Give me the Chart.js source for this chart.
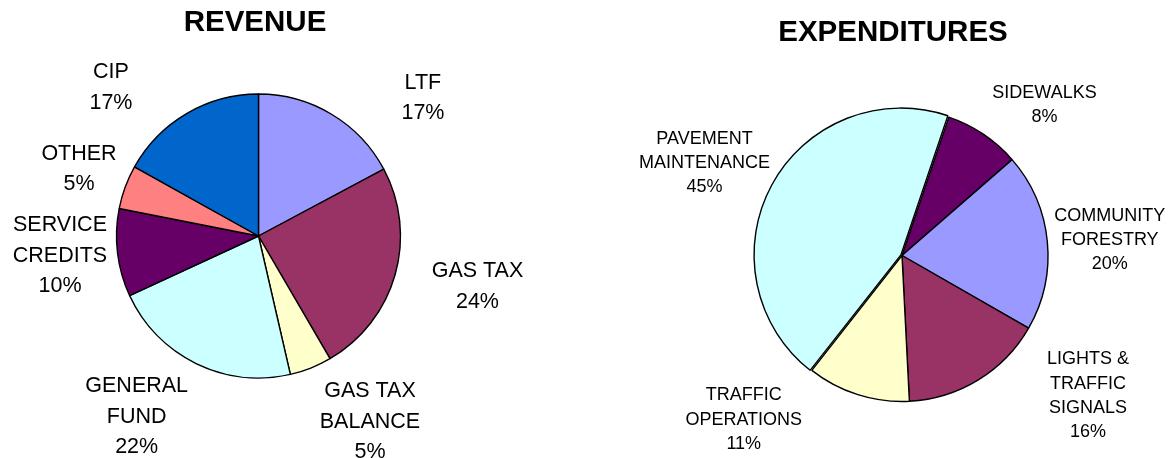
<!DOCTYPE html>
<html>
<head>
<meta charset="utf-8">
<script src="https://cdn.jsdelivr.net/npm/chart.js@4.4.1/dist/chart.umd.min.js"></script>
<style>
  html, body { margin: 0; padding: 0; background: #ffffff; }
  #wrap { position: relative; width: 1171px; height: 458px; overflow: hidden; }
  canvas { position: absolute; top: 0; }
  #c1 { left: 0; }
  #c2 { left: 585px; }
</style>
</head>
<body>
<div id="wrap">
  <canvas id="c1" width="585" height="458"></canvas>
  <canvas id="c2" width="586" height="458"></canvas>
</div>
<script>
// ---- DATA ----
const revenueTitle = 'REVENUE';
const revenueCategories = ['LTF', 'GAS TAX', 'GAS TAX\nBALANCE', 'GENERAL\nFUND', 'SERVICE\nCREDITS', 'OTHER', 'CIP'];
const revenueValues = [17.2, 24.4, 4.8, 21.7, 10.0, 5.0, 16.9];
const revenueColors = ['#9999FF', '#993366', '#FFFFCC', '#CCFFFF', '#660066', '#FF8080', '#0066CC'];

const expTitle = 'EXPENDITURES';
const expCategories = ['SIDEWALKS', 'COMMUNITY\nFORESTRY', 'LIGHTS &\nTRAFFIC\nSIGNALS', 'TRAFFIC\nOPERATIONS', 'PAVEMENT\nMAINTENANCE'];
const expValues = [8.4, 19.7, 15.9, 11.4, 44.6];
const expColors = ['#660066', '#9999FF', '#993366', '#FFFFCC', '#CCFFFF'];
const expOffsets = [0, 0, 0, 0, 5];

// ---- LAYOUT (label block centres relative to pie centre, in radius units) ----
const revenueLabelPos = [[1.158, -0.973], [1.542, 0.356], [0.785, 1.308], [-0.858, 1.275], [-1.398, 0.141], [-1.264, -0.472], [-1.039, -1.046]];
const expLabelPos = [[0.976, -1.033], [1.423, -0.106], [1.274, 0.961], [-1.084, 1.125], [-1.353, -0.634]];

const FONT = '"Liberation Sans", Arial, Helvetica, sans-serif';

const pieLabels = {
  id: 'pieLabels',
  afterDatasetsDraw(chart, args, opts) {
    const ctx = chart.ctx;
    const meta = chart.getDatasetMeta(0);
    const ds = chart.data.datasets[0];
    const total = ds.data.reduce((a, b) => a + b, 0);
    ctx.save();
    ctx.fillStyle = '#000';
    ctx.textAlign = 'center';
    ctx.textBaseline = 'middle';
    ctx.font = opts.fontSize + 'px ' + FONT;
    meta.data.forEach((arc, i) => {
      const r = arc.outerRadius;
      const cx = arc.x + opts.pos[i][0] * r;
      const cy = arc.y + opts.pos[i][1] * r;
      const lines = chart.data.labels[i].split('\n');
      lines.push(Math.round(ds.data[i] / total * 100) + '%');
      const lh = opts.lineHeight;
      const y0 = cy - (lines.length - 1) * lh / 2;
      lines.forEach((t, k) => ctx.fillText(t, cx, y0 + k * lh));
    });
    // title
    ctx.font = 'bold ' + opts.titleSize + 'px ' + FONT;
    ctx.fillText(opts.title, opts.titleX, opts.titleY);
    ctx.restore();
  }
};

function makePie(id, labels, values, colors, offsets, radius, rotation, padding, labelOpts) {
  return new Chart(document.getElementById(id), {
    type: 'pie',
    data: {
      labels: labels,
      datasets: [{
        data: values,
        backgroundColor: colors,
        borderColor: '#000000',
        borderWidth: 1.4,
        offset: offsets,
        radius: radius,
        rotation: rotation
      }]
    },
    options: {
      responsive: false,
      animation: false,
      events: [],
      radius: radius,
      rotation: rotation,
      layout: { padding: padding },
      plugins: {
        legend: { display: false },
        title: { display: false },
        tooltip: { enabled: false },
        pieLabels: labelOpts
      }
    },
    plugins: [pieLabels]
  });
}

makePie('c1', revenueCategories, revenueValues, revenueColors, 0, 142, 0,
  { left: 0, right: 68, top: 14, bottom: 0 },
  { pos: revenueLabelPos, fontSize: 21.5, lineHeight: 30.5, title: revenueTitle, titleSize: 29.5, titleX: 255, titleY: 23 });

makePie('c2', expCategories, expValues, expColors, expOffsets, 146, 18.7,
  { left: 48, right: 0, top: 53, bottom: 0 },
  { pos: expLabelPos, fontSize: 18, lineHeight: 24.3, title: expTitle, titleSize: 29.5, titleX: 308, titleY: 33 });
</script>
</body>
</html>
